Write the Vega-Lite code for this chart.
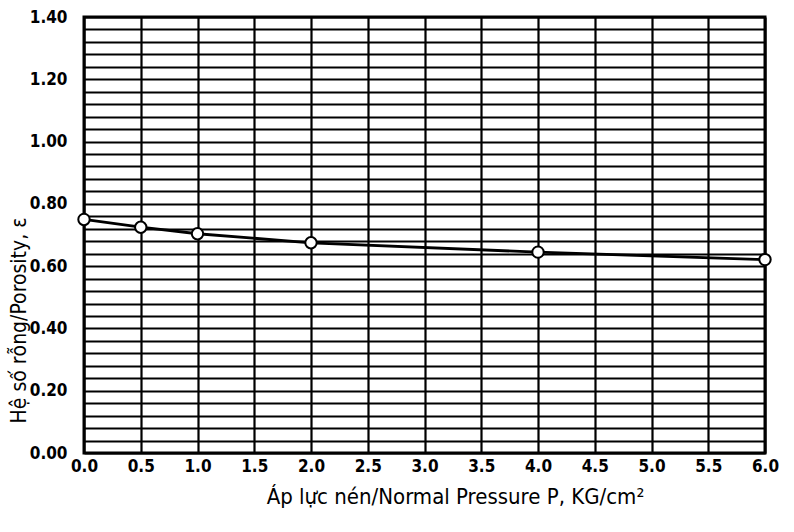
{
  "$schema": "https://vega.github.io/schema/vega-lite/v6.json",
  "width": 681,
  "height": 436,
  "autosize": "none",
  "padding": {"left": 84, "top": 17, "right": 29, "bottom": 79},
  "background": "white",
  "config": {
    "view": {"stroke": "black", "strokeWidth": 3},
    "axis": {
      "grid": true,
      "gridColor": "black",
      "gridOpacity": 1,
      "gridWidth": 2.2,
      "domain": false,
      "ticks": false,
      "labelFlush": false,
      "labelFont": "DejaVu Sans Condensed",
      "labelFontSize": 17,
      "labelFontWeight": "bold",
      "labelColor": "black",
      "titleFont": "DejaVu Sans Condensed",
      "titleFontSize": 21,
      "titleFontWeight": "normal",
      "titleColor": "black"
    }
  },
  "data": {
    "values": [
      {"p": 0.0, "e": 0.750},
      {"p": 0.5, "e": 0.725},
      {"p": 1.0, "e": 0.704},
      {"p": 2.0, "e": 0.675},
      {"p": 4.0, "e": 0.645},
      {"p": 6.0, "e": 0.621}
    ]
  },
  "encoding": {
    "x": {
      "field": "p",
      "type": "quantitative",
      "scale": {"domain": [0, 6], "nice": false},
      "axis": {
        "values": [0, 0.5, 1, 1.5, 2, 2.5, 3, 3.5, 4, 4.5, 5, 5.5, 6],
        "format": ".1f",
        "labelPadding": 5,
        "title": "Áp lực nén/Normal Pressure P, KG/cm²",
        "titleFontSize": 22,
        "titlePadding": 12,
        "titleX": 371,
        "titleAlign": "center"
      }
    },
    "y": {
      "field": "e",
      "type": "quantitative",
      "scale": {"domain": [0, 1.4], "nice": false},
      "axis": {
        "values": [0, 0.04, 0.08, 0.12, 0.16, 0.2, 0.24, 0.28, 0.32, 0.36, 0.4, 0.44, 0.48, 0.52, 0.56, 0.6, 0.64, 0.68, 0.72, 0.76, 0.8, 0.84, 0.88, 0.92, 0.96, 1.0, 1.04, 1.08, 1.12, 1.16, 1.2, 1.24, 1.28, 1.32, 1.36, 1.4],
        "labelExpr": "abs(datum.value*5 - round(datum.value*5)) < 0.001 ? format(datum.value, '.2f') : ''",
        "labelPadding": 17,
        "title": "Hệ số rỗng/Porosity, ε",
        "titleX": -55,
        "titleY": 303,
        "titleAlign": "center"
      }
    }
  },
  "layer": [
    {"mark": {"type": "line", "color": "black", "strokeWidth": 2.8}},
    {"mark": {"type": "point", "filled": true, "fill": "white", "stroke": "black", "strokeWidth": 2, "size": 130, "opacity": 1}}
  ]
}
